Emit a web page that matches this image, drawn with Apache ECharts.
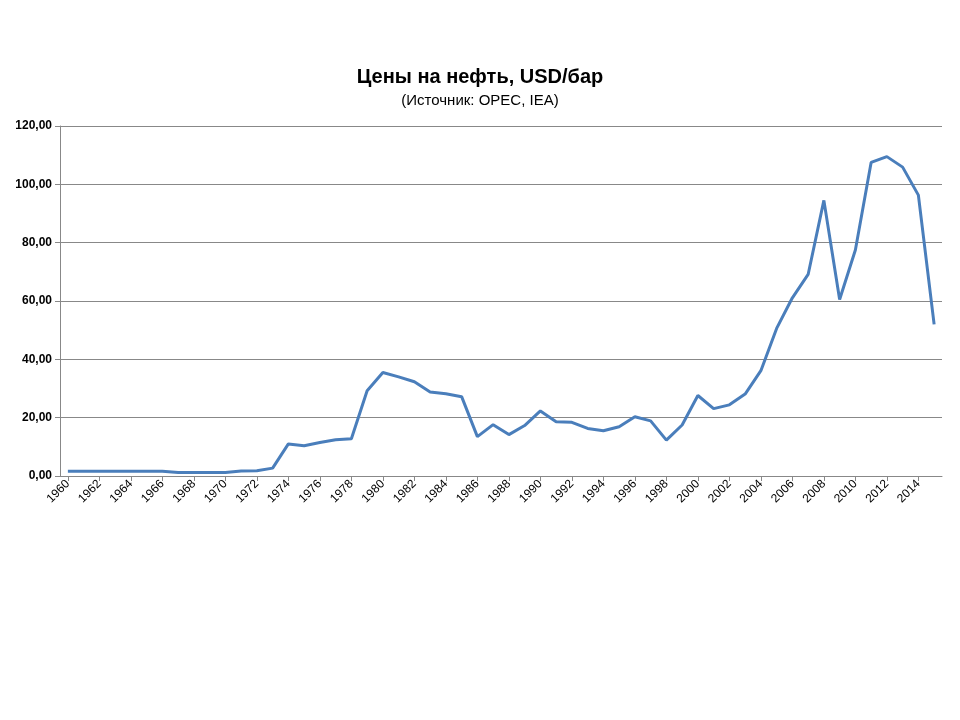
<!DOCTYPE html>
<html><head><meta charset="utf-8">
<script src="https://cdn.jsdelivr.net/npm/echarts@6/dist/echarts.min.js"></script>
<style>html,body{margin:0;background:#fff}#c{width:960px;height:720px}</style></head>
<body><div id="c"></div>
<script>
const years = [];
for (let y = 1960; y <= 2015; y++) years.push(String(y));
const prices = [1.6,1.6,1.6,1.6,1.6,1.6,1.6,1.2,1.2,1.2,1.2,1.7,1.8,2.7,
11.0,10.4,11.5,12.4,12.8,29.2,35.5,34.0,32.3,28.8,28.2,27.2,13.5,17.6,14.2,17.3,
22.3,18.6,18.4,16.3,15.5,16.9,20.3,18.9,12.3,17.5,27.6,23.1,24.4,28.1,36.1,50.6,
61.1,69.1,94.5,60.5,77.5,107.5,109.5,105.9,96.3,52.0];
const chart = echarts.init(document.getElementById('c'));
chart.setOption({
  animation:false,
  title:{text:'Цены на нефть, USD/бар',subtext:'(Источник: OPEC, IEA)',left:'center',top:62,itemGap:6,
    textStyle:{fontFamily:'Liberation Sans',fontSize:20,fontWeight:'bold',color:'#000'},
    subtextStyle:{fontFamily:'Liberation Sans',fontSize:15,color:'#000'}},
  grid:{left:60,right:18,top:126,bottom:244},
  xAxis:{type:'category',data:years,boundaryGap:true,
    axisLine:{lineStyle:{color:'#888'}},axisTick:{show:true,interval:1,alignWithLabel:true,lineStyle:{color:'#888'}},
    axisLabel:{interval:1,rotate:45,fontFamily:'Liberation Sans',fontSize:12,color:'#000',margin:6}},
  yAxis:{type:'value',min:0,max:120,interval:20,
    axisLine:{show:true,lineStyle:{color:'#888'}},axisTick:{show:true,lineStyle:{color:'#888'}},
    splitLine:{lineStyle:{color:'#888'}},
    axisLabel:{formatter:v=>v.toFixed(2).replace('.',','),fontFamily:'Liberation Sans',fontSize:12,fontWeight:'bold',color:'#000'}},
  series:[{type:'line',data:prices,showSymbol:false,lineStyle:{color:'#4a7ebb',width:3}}]
});
</script></body></html>
